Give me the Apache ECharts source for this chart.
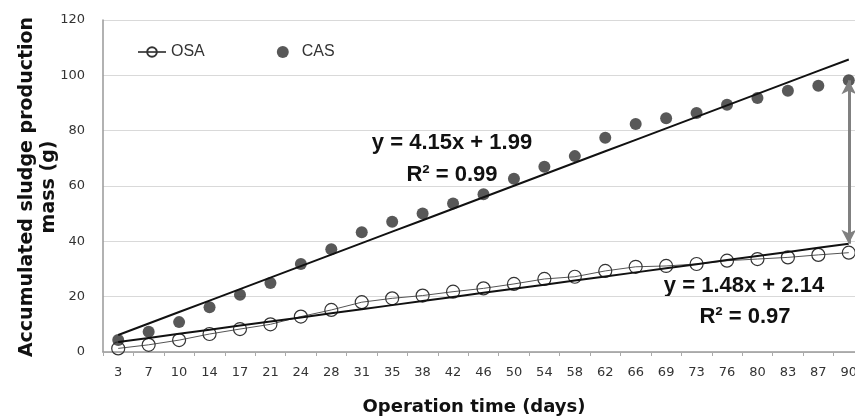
<!DOCTYPE html>
<html>
<head>
<meta charset="utf-8">
<script src="https://cdn.jsdelivr.net/npm/echarts@6/dist/echarts.min.js"></script>
<style>html,body{margin:0;padding:0;background:#fff;overflow:hidden;width:855px;height:417px;}#c{width:864px;height:417px;}</style>
</head>
<body>
<div id="c"></div>
<script>
var days = ['3','7','10','14','17','21','24','28','31','35','38','42','46','50','54','58','62','66','69','73','76','80','83','87','90'];
var osaValues = [1.3,2.6,4.3,6.5,8.3,10.0,12.8,15.2,18.0,19.4,20.4,21.8,23.0,24.6,26.4,27.2,29.3,30.8,31.1,31.8,33.0,33.6,34.2,35.1,35.9];
var casValues = [4.3,7.3,10.8,16.2,20.7,24.9,31.8,37.1,43.3,47.1,50.1,53.7,57.0,62.6,67.0,70.8,77.4,82.4,84.5,86.4,89.4,91.8,94.4,96.2,98.2];
var osaFit = [1.48, 2.14];   // slope, intercept (x = category order 1..n)
var casFit = [4.15, 1.99];
var yTicks = [0, 20, 40, 60, 80, 100, 120];

function fitLine(c) { return days.map(function (d, i) { return +(c[0] * (i + 1) + c[1]).toFixed(3); }); }
var osaTrend = fitLine(osaFit);
var casTrend = fitLine(casFit);
var last = days.length - 1;

var chart = echarts.init(document.getElementById('c'), null, {renderer: 'canvas'});
var tickFont = '"DejaVu Sans", Verdana, sans-serif';
chart.setOption({
  animation: false,
  backgroundColor: '#fff',
  grid: {left: 103, right: 0, top: 20, bottom: 65},
  legend: {
    left: 137, top: 44, padding: 0, itemWidth: 28, itemHeight: 12, itemGap: 72,
    data: ['OSA', 'CAS'],
    textStyle: {fontFamily: '"Liberation Sans Narrow", "Arial Narrow", "Liberation Sans", sans-serif', fontSize: 16, color: '#333'}
  },
  xAxis: {
    type: 'category', data: days, boundaryGap: true,
    axisLine: {lineStyle: {color: '#999', width: 1.5}},
    axisTick: {show: true, interval: 0, length: 4, lineStyle: {color: '#aaa'}},
    axisLabel: {interval: 0, margin: 14, fontFamily: tickFont, fontSize: 13, color: '#333'},
    splitLine: {show: false}
  },
  yAxis: {
    type: 'value', min: yTicks[0], max: yTicks[yTicks.length - 1], interval: 20,
    axisLine: {show: true, lineStyle: {color: '#999', width: 1.5}},
    axisTick: {show: false},
    axisLabel: {margin: 18, fontFamily: tickFont, fontSize: 13, color: '#333'},
    splitLine: {lineStyle: {color: '#d9d9d9', width: 1.2}}
  },
  graphic: [
    {type: 'text', x: 38, y: 187, rotation: Math.PI / 2, style: {text: 'Accumulated sludge production\nmass (g)', font: 'bold 19px "DejaVu Sans", sans-serif', fill: '#111', align: 'center', verticalAlign: 'middle', lineHeight: 22}},
    {type: 'text', x: 474, y: 407, style: {text: 'Operation time (days)', font: 'bold 18px "DejaVu Sans", sans-serif', fill: '#111', align: 'center', verticalAlign: 'middle'}},
    {type: 'text', x: 452, y: 143, style: {text: 'y = 4.15x + 1.99', font: 'bold 22px "Liberation Sans", Arial, sans-serif', fill: '#111', align: 'center', verticalAlign: 'middle'}},
    {type: 'text', x: 452, y: 175, style: {text: 'R\u00b2 = 0.99', font: 'bold 22px "Liberation Sans", Arial, sans-serif', fill: '#111', align: 'center', verticalAlign: 'middle'}},
    {type: 'text', x: 744, y: 286, style: {text: 'y = 1.48x + 2.14', font: 'bold 22px "Liberation Sans", Arial, sans-serif', fill: '#111', align: 'center', verticalAlign: 'middle'}},
    {type: 'text', x: 745, y: 317, style: {text: 'R\u00b2 = 0.97', font: 'bold 22px "Liberation Sans", Arial, sans-serif', fill: '#111', align: 'center', verticalAlign: 'middle'}}
  ],
  series: [
    {
      name: 'OSA', type: 'line', data: osaValues, z: 3,
      symbol: 'circle', symbolSize: 13,
      itemStyle: {color: 'rgba(255,255,255,0)', borderColor: '#333', borderWidth: 1.2},
      lineStyle: {color: '#555', width: 1}
    },
    {
      name: 'CAS', type: 'scatter', data: casValues, z: 3,
      symbol: 'circle', symbolSize: 12,
      itemStyle: {color: '#2e2e2e'},
      markLine: {
        silent: true, symbol: ['arrow', 'arrow'], symbolSize: [11, 14],
        label: {show: false},
        lineStyle: {color: '#808080', width: 3, type: 'solid'},
        data: [[{coord: [last, casValues[last]]}, {coord: [last, osaTrend[last]]}]]
      }
    },
    {
      name: 'OSA fit', type: 'line', data: osaTrend, symbol: 'none', z: 4,
      lineStyle: {color: '#111', width: 2}
    },
    {
      name: 'CAS fit', type: 'line', data: casTrend, symbol: 'none', z: 4,
      lineStyle: {color: '#111', width: 2}
    }
  ]
});
</script>
</body>
</html>
